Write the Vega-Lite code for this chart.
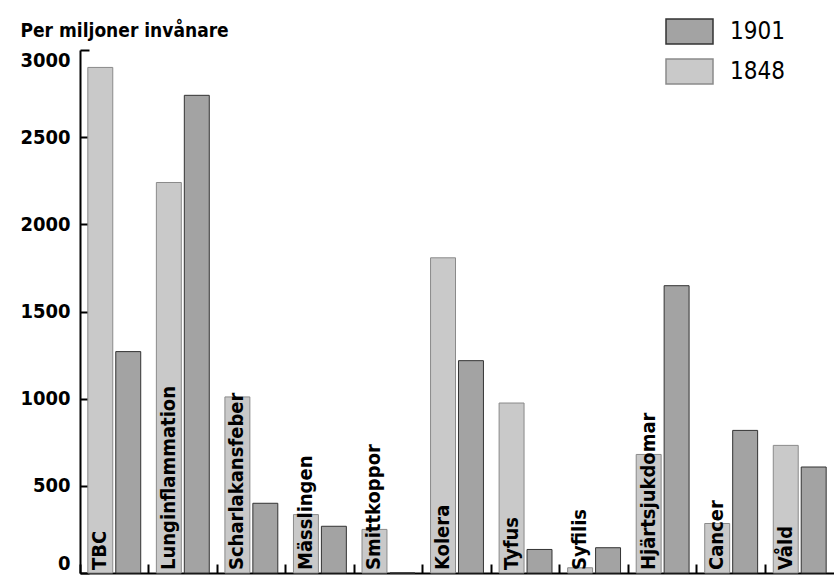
{
  "$schema": "https://vega.github.io/schema/vega-lite/v6.json",
  "width": 754,
  "height": 523,
  "autosize": {"type": "none"},
  "padding": {"left": 80, "top": 50, "right": 0, "bottom": 6},
  "background": "white",
  "config": {"view": {"stroke": null}, "font": "DejaVu Sans Condensed"},
  "data": {
    "values": [
      {"category": "TBC", "year": "1848", "value": 2900},
      {"category": "TBC", "year": "1901", "value": 1270},
      {"category": "Lunginflammation", "year": "1848", "value": 2240},
      {"category": "Lunginflammation", "year": "1901", "value": 2740},
      {"category": "Scharlakansfeber", "year": "1848", "value": 1010},
      {"category": "Scharlakansfeber", "year": "1901", "value": 400},
      {"category": "Mässlingen", "year": "1848", "value": 335},
      {"category": "Mässlingen", "year": "1901", "value": 268},
      {"category": "Smittkoppor", "year": "1848", "value": 250},
      {"category": "Smittkoppor", "year": "1901", "value": 0},
      {"category": "Kolera", "year": "1848", "value": 1808},
      {"category": "Kolera", "year": "1901", "value": 1218},
      {"category": "Tyfus", "year": "1848", "value": 975},
      {"category": "Tyfus", "year": "1901", "value": 135},
      {"category": "Syfilis", "year": "1848", "value": 30},
      {"category": "Syfilis", "year": "1901", "value": 145},
      {"category": "Hjärtsjukdomar", "year": "1848", "value": 680},
      {"category": "Hjärtsjukdomar", "year": "1901", "value": 1648},
      {"category": "Cancer", "year": "1848", "value": 284},
      {"category": "Cancer", "year": "1901", "value": 818},
      {"category": "Våld", "year": "1848", "value": 732},
      {"category": "Våld", "year": "1901", "value": 608}
    ]
  },
  "encoding": {
    "x": {
      "field": "category",
      "type": "nominal",
      "sort": null,
      "scale": {"paddingInner": 0, "paddingOuter": 0},
      "axis": {
        "title": null,
        "labels": false,
        "ticks": true,
        "bandPosition": 0,
        "tickSize": -9,
        "tickWidth": 2,
        "tickColor": "black",
        "domainWidth": 2,
        "domainColor": "black"
      }
    }
  },
  "layer": [
    {
      "mark": {"type": "bar", "strokeWidth": 1},
      "encoding": {
        "xOffset": {
          "field": "year",
          "type": "nominal",
          "scale": {"domain": ["1848", "1901"], "paddingInner": 0.107, "paddingOuter": 0.28}
        },
        "y": {
          "field": "value",
          "type": "quantitative",
          "scale": {"domain": [0, 3000], "nice": false},
          "axis": {
            "title": "Per miljoner invånare",
            "titleAngle": 0,
            "titleAlign": "left",
            "titleBaseline": "alphabetic",
            "titleX": -60,
            "titleY": -14,
            "titleFontSize": 19,
            "titleFontWeight": "bold",
            "titleColor": "black",
            "titleFont": "DejaVu Sans Condensed",
            "values": [0, 500, 1000, 1500, 2000, 2500, 3000],
            "format": "d",
            "grid": false,
            "tickSize": -9,
            "tickWidth": 2,
            "tickColor": "black",
            "domainWidth": 2,
            "domainColor": "black",
            "labelFontSize": 20,
            "labelFontWeight": "bold",
            "labelColor": "black",
            "labelFont": "DejaVu Sans Condensed",
            "labelPadding": 19,
            "labelFlush": true,
            "labelOffset": 0
          }
        },
        "color": {
          "field": "year",
          "type": "nominal",
          "scale": {"domain": ["1901", "1848"], "range": ["#a3a3a3", "#c9c9c9"]},
          "legend": {
            "orient": "none",
            "legendX": 585,
            "legendY": -43,
            "title": null,
            "padding": 0,
            "symbolType": "M-1,-0.53H1V0.53H-1Z",
            "symbolSize": 2209,
            "symbolStrokeWidth": 1.5,
            "labelFontSize": 24,
            "labelFont": "DejaVu Sans Condensed",
            "labelColor": "black",
            "labelOffset": 16,
            "rowPadding": -8
          }
        },
        "stroke": {
          "field": "year",
          "type": "nominal",
          "scale": {"domain": ["1901", "1848"], "range": ["#333333", "#8a8a8a"]},
          "legend": {
            "orient": "none",
            "legendX": 585,
            "legendY": -43,
            "title": null,
            "padding": 0,
            "symbolType": "M-1,-0.53H1V0.53H-1Z",
            "symbolSize": 2209,
            "symbolStrokeWidth": 1.5,
            "labelFontSize": 24,
            "labelFont": "DejaVu Sans Condensed",
            "labelColor": "black",
            "labelOffset": 16,
            "rowPadding": -8
          }
        }
      }
    },
    {
      "transform": [{"filter": "datum.year == '1848'"}],
      "mark": {
        "type": "text",
        "angle": 270,
        "align": "left",
        "baseline": "middle",
        "dx": 3,
        "font": "DejaVu Sans Condensed",
        "fontSize": 20,
        "fontWeight": "bold",
        "color": "black"
      },
      "encoding": {
        "xOffset": {
          "field": "year",
          "type": "nominal",
          "scale": {"domain": ["1848", "1901"], "paddingInner": 0.107, "paddingOuter": 0.28}
        },
        "y": {"datum": 0, "type": "quantitative"},
        "text": {"field": "category", "type": "nominal"}
      }
    }
  ]
}
